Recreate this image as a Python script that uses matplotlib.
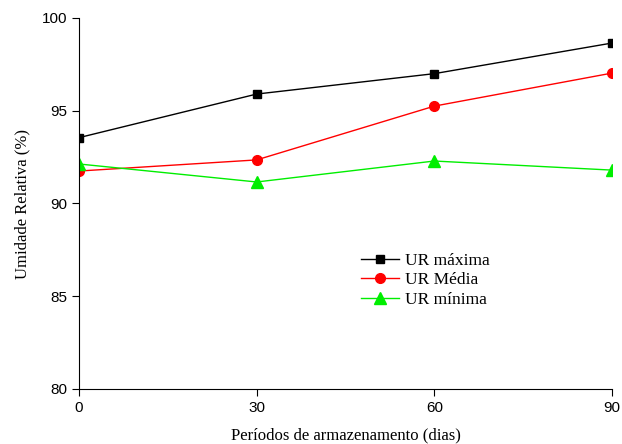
import matplotlib.pyplot as plt

dias = [0, 30, 60, 90]
ur_maxima = [93.55, 95.9, 97.0, 98.65]
ur_media = [91.75, 92.35, 95.25, 97.03]
ur_minima = [92.13, 91.16, 92.29, 91.8]

serif = ['Liberation Serif', 'DejaVu Serif']
sans = ['Liberation Sans', 'DejaVu Sans']

fig = plt.figure(figsize=(6.22, 4.44), dpi=100)
ax = fig.add_axes([79/622, 1-389/444, (612-79)/622, (389-18)/444])

ax.plot(dias, ur_maxima, color='black', marker='s', markersize=6, lw=1, label='UR máxima')
ax.plot(dias, ur_media, color='red', marker='o', markersize=7, lw=1, label='UR Média')
ax.plot(dias, ur_minima, color='#00ee00', marker='^', markersize=8, lw=1, label='UR mínima')

ax.set_xlim(0, 90)
ax.set_ylim(80, 100)
ax.set_xticks([0, 30, 60, 90])
ax.set_yticks([80, 85, 90, 95, 100])
for s in ['top', 'right']:
    ax.spines[s].set_visible(False)
ax.tick_params(direction='out', length=5, labelsize=11)
for lbl in ax.get_xticklabels() + ax.get_yticklabels():
    lbl.set_family(sans)

ax.set_xlabel('Períodos de armazenamento (dias)', family=serif, fontsize=12, labelpad=9)
ax.set_ylabel('Umidade Relativa (%)', family=serif, fontsize=12, labelpad=8)

ax.legend(loc='upper left', bbox_to_anchor=(0.5, 0.41), frameon=False,
          prop={'family': serif, 'size': 12.5}, handlelength=2.2,
          handletextpad=0.3, labelspacing=0.2)

fig.savefig('out.png', dpi=100)
